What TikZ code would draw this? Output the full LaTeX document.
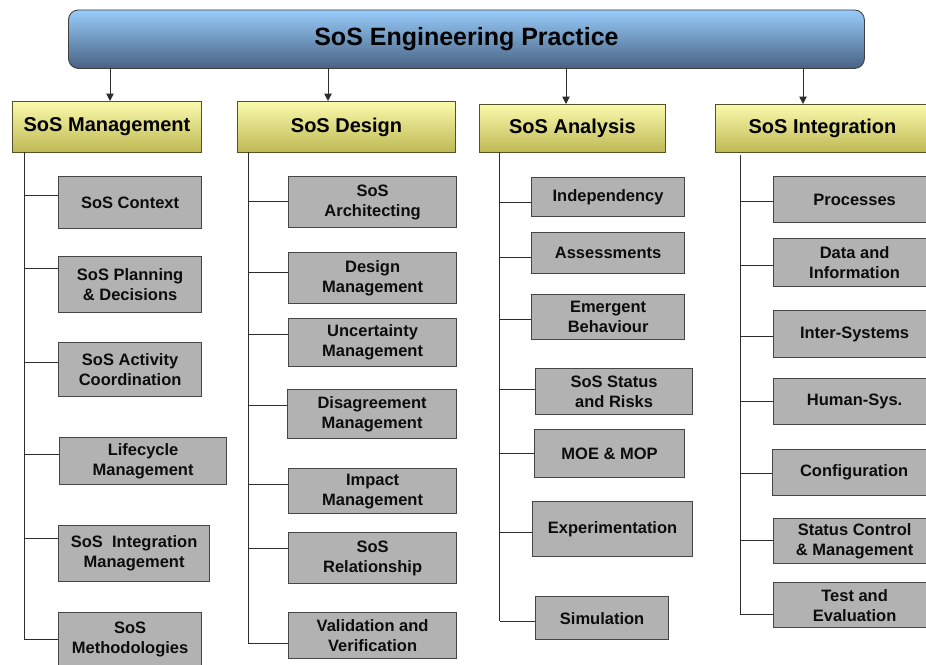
\documentclass[tikz,border=0pt]{standalone}
\usepackage{fontspec}
\setmainfont{Liberation Sans}
\usetikzlibrary{arrows.meta}
\definecolor{bluetop}{RGB}{152,204,250}
\definecolor{bluebot}{RGB}{72,98,132}
\definecolor{yeltop}{RGB}{250,250,172}
\definecolor{yelbot}{RGB}{190,184,84}
\definecolor{yelborder}{RGB}{85,82,40}
\definecolor{grayfill}{RGB}{178,178,178}
\definecolor{grayborder}{RGB}{70,70,70}
\definecolor{linecol}{RGB}{45,45,45}
\begin{document}
\begin{tikzpicture}[x=1pt,y=-1pt,
 topbox/.style={draw=black!75, line width=0.9pt, rounded corners=10pt, top color=bluetop, bottom color=bluebot, anchor=north west, inner sep=0pt, text=black, font=\fontsize{25}{29}\selectfont\bfseries},
 catbox/.style={draw=yelborder, line width=1pt, top color=yeltop, bottom color=yelbot, anchor=north west, inner sep=0pt, font=\fontsize{20}{24}\selectfont\bfseries, text=black},
 item/.style={draw=grayborder, line width=1.2pt, fill=grayfill, anchor=north west, inner sep=0pt, align=center, font=\fontsize{16.5}{20}\selectfont\bfseries, text=black!95},
 conn/.style={draw=linecol, line width=1pt},
 arr/.style={conn, -{Triangle[width=7.5pt,length=7.5pt]}},
]
\useasboundingbox (0,0) rectangle (926,664);
\fill[white] (0,0) rectangle (926,664);

% top
\node[topbox, minimum width=796pt, minimum height=58.5pt] (top) at (68,9.5) {SoS Engineering Practice};

% categories
\node[catbox, minimum width=189pt, minimum height=51pt] (cat1) at (12,101) {SoS Management};
\node[catbox, minimum width=218pt, minimum height=51pt] (cat2) at (237,101) {SoS Design};
\node[catbox, minimum width=186pt, minimum height=48pt] (cat3) at (479,104) {SoS Analysis};
\node[catbox, minimum width=214pt, minimum height=48pt] (cat4) at (715,104) {SoS Integration};

% arrows
\coordinate (A1) at (110,68);
\coordinate (A2) at (328,68);
\coordinate (A3) at (566,68);
\coordinate (A4) at (803,68);
\draw[arr] (A1) -- (A1 |- cat1.north);
\draw[arr] (A2) -- (A2 |- cat2.north);
\draw[arr] (A3) -- (A3 |- cat3.north);
\draw[arr] (A4) -- (A4 |- cat4.north);

% column 1
\node[item, minimum width=143pt, minimum height=52pt] (c1a) at (58,176) {SoS Context};
\node[item, minimum width=143pt, minimum height=56pt] (c1b) at (58,256) {SoS Planning\\\& Decisions};
\node[item, minimum width=143pt, minimum height=54pt] (c1c) at (58,342) {SoS Activity\\Coordination};
\node[item, minimum width=167pt, minimum height=47pt] (c1d) at (59,437) {Lifecycle\\Management};
\node[item, minimum width=151pt, minimum height=56pt] (c1e) at (58,525) {SoS~ Integration\\Management};
\node[item, minimum width=143pt, minimum height=54pt] (c1f) at (58,612) {SoS\\Methodologies};

% column 2
\node[item, minimum width=168pt, minimum height=51pt] (c2a) at (288,176) {SoS\\Architecting};
\node[item, minimum width=168pt, minimum height=51pt] (c2b) at (288,252) {Design\\Management};
\node[item, minimum width=168pt, minimum height=48pt] (c2c) at (288,318) {Uncertainty\\Management};
\node[item, minimum width=169pt, minimum height=49pt] (c2d) at (287,389) {Disagreement\\Management};
\node[item, minimum width=168pt, minimum height=45pt] (c2e) at (288,468) {Impact\\Management};
\node[item, minimum width=168pt, minimum height=51pt] (c2f) at (288,532) {SoS\\Relationship};
\node[item, minimum width=168pt, minimum height=46pt] (c2g) at (288,612) {Validation and\\Verification};

% column 3
\node[item, minimum width=153pt, minimum height=39pt] (c3a) at (531,177) {Independency};
\node[item, minimum width=153pt, minimum height=41pt] (c3b) at (531,232) {Assessments};
\node[item, minimum width=153pt, minimum height=45pt] (c3c) at (531,294) {Emergent\\Behaviour};
\node[item, minimum width=157pt, minimum height=46pt] (c3d) at (535,368) {SoS Status\\and Risks};
\node[item, minimum width=150pt, minimum height=48pt] (c3e) at (534,429) {MOE \& MOP};
\node[item, minimum width=160pt, minimum height=55pt] (c3f) at (532,501) {Experimentation};
\node[item, minimum width=133pt, minimum height=43pt] (c3g) at (535,596) {Simulation};

% column 4
\node[item, minimum width=162pt, minimum height=46pt] (c4a) at (773,176) {Processes};
\node[item, minimum width=162pt, minimum height=48pt] (c4b) at (773,238) {Data and\\Information};
\node[item, minimum width=162pt, minimum height=47pt] (c4c) at (773,310) {Inter-Systems};
\node[item, minimum width=162pt, minimum height=46pt] (c4d) at (773,378) {Human-Sys.};
\node[item, minimum width=163pt, minimum height=46pt] (c4e) at (772,449) {Configuration};
\node[item, minimum width=162pt, minimum height=45pt] (c4f) at (773,518) {Status Control\\\& Management};
\node[item, minimum width=162pt, minimum height=45pt] (c4g) at (773,582) {Test and\\Evaluation};

% trunks
\coordinate (T1) at (24,152);   \coordinate (T1e) at (24,639);
\coordinate (T2) at (248,152);  \coordinate (T2e) at (248,643);
\coordinate (T3) at (499.5,152);\coordinate (T3e) at (499.5,621);
\coordinate (T4) at (740,155);  \coordinate (T4e) at (740,614);
\draw[conn] (T1) -- (T1e);
\draw[conn] (T2) -- (T2e);
\draw[conn] (T3) -- (T3e);
\draw[conn] (T4) -- (T4e);

% branches column 1
\draw[conn] ([yshift=7pt]c1a.west) -- ([yshift=7pt]c1a.west -| T1);
\draw[conn] ([yshift=16pt]c1b.west) -- ([yshift=16pt]c1b.west -| T1);
\draw[conn] ([yshift=7pt]c1c.west) -- ([yshift=7pt]c1c.west -| T1);
\draw[conn] ([yshift=6.5pt]c1d.west) -- ([yshift=6.5pt]c1d.west -| T1);
\draw[conn] ([yshift=15pt]c1e.west) -- ([yshift=15pt]c1e.west -| T1);
\draw[conn] ([yshift=0pt]c1f.west) -- ([yshift=0pt]c1f.west -| T1);

% branches column 2
\draw[conn] ([yshift=0.5pt]c2a.west) -- ([yshift=0.5pt]c2a.west -| T2);
\draw[conn] ([yshift=5.5pt]c2b.west) -- ([yshift=5.5pt]c2b.west -| T2);
\draw[conn] ([yshift=8pt]c2c.west) -- ([yshift=8pt]c2c.west -| T2);
\draw[conn] ([yshift=8.5pt]c2d.west) -- ([yshift=8.5pt]c2d.west -| T2);
\draw[conn] ([yshift=6.5pt]c2e.west) -- ([yshift=6.5pt]c2e.west -| T2);
\draw[conn] ([yshift=9.5pt]c2f.west) -- ([yshift=9.5pt]c2f.west -| T2);
\draw[conn] ([yshift=-8pt]c2g.west) -- ([yshift=-8pt]c2g.west -| T2);

% branches column 3
\draw[conn] ([yshift=-5.5pt]c3a.west) -- ([yshift=-5.5pt]c3a.west -| T3);
\draw[conn] ([yshift=-4.5pt]c3b.west) -- ([yshift=-4.5pt]c3b.west -| T3);
\draw[conn] ([yshift=-2.5pt]c3c.west) -- ([yshift=-2.5pt]c3c.west -| T3);
\draw[conn] ([yshift=2pt]c3d.west) -- ([yshift=2pt]c3d.west -| T3);
\draw[conn] ([yshift=0pt]c3e.west) -- ([yshift=0pt]c3e.west -| T3);
\draw[conn] ([yshift=-3.5pt]c3f.west) -- ([yshift=-3.5pt]c3f.west -| T3);
\draw[conn] ([yshift=-3.5pt]c3g.west) -- ([yshift=-3.5pt]c3g.west -| T3);

% branches column 4
\draw[conn] ([yshift=-2pt]c4a.west) -- ([yshift=-2pt]c4a.west -| T4);
\draw[conn] ([yshift=-3pt]c4b.west) -- ([yshift=-3pt]c4b.west -| T4);
\draw[conn] ([yshift=-2.5pt]c4c.west) -- ([yshift=-2.5pt]c4c.west -| T4);
\draw[conn] ([yshift=0pt]c4d.west) -- ([yshift=0pt]c4d.west -| T4);
\draw[conn] ([yshift=-1pt]c4e.west) -- ([yshift=-1pt]c4e.west -| T4);
\draw[conn] ([yshift=0.5pt]c4f.west) -- ([yshift=0.5pt]c4f.west -| T4);
\draw[conn] ([yshift=-9.5pt]c4g.west) -- ([yshift=-9.5pt]c4g.west -| T4);
\end{tikzpicture}
\end{document}
